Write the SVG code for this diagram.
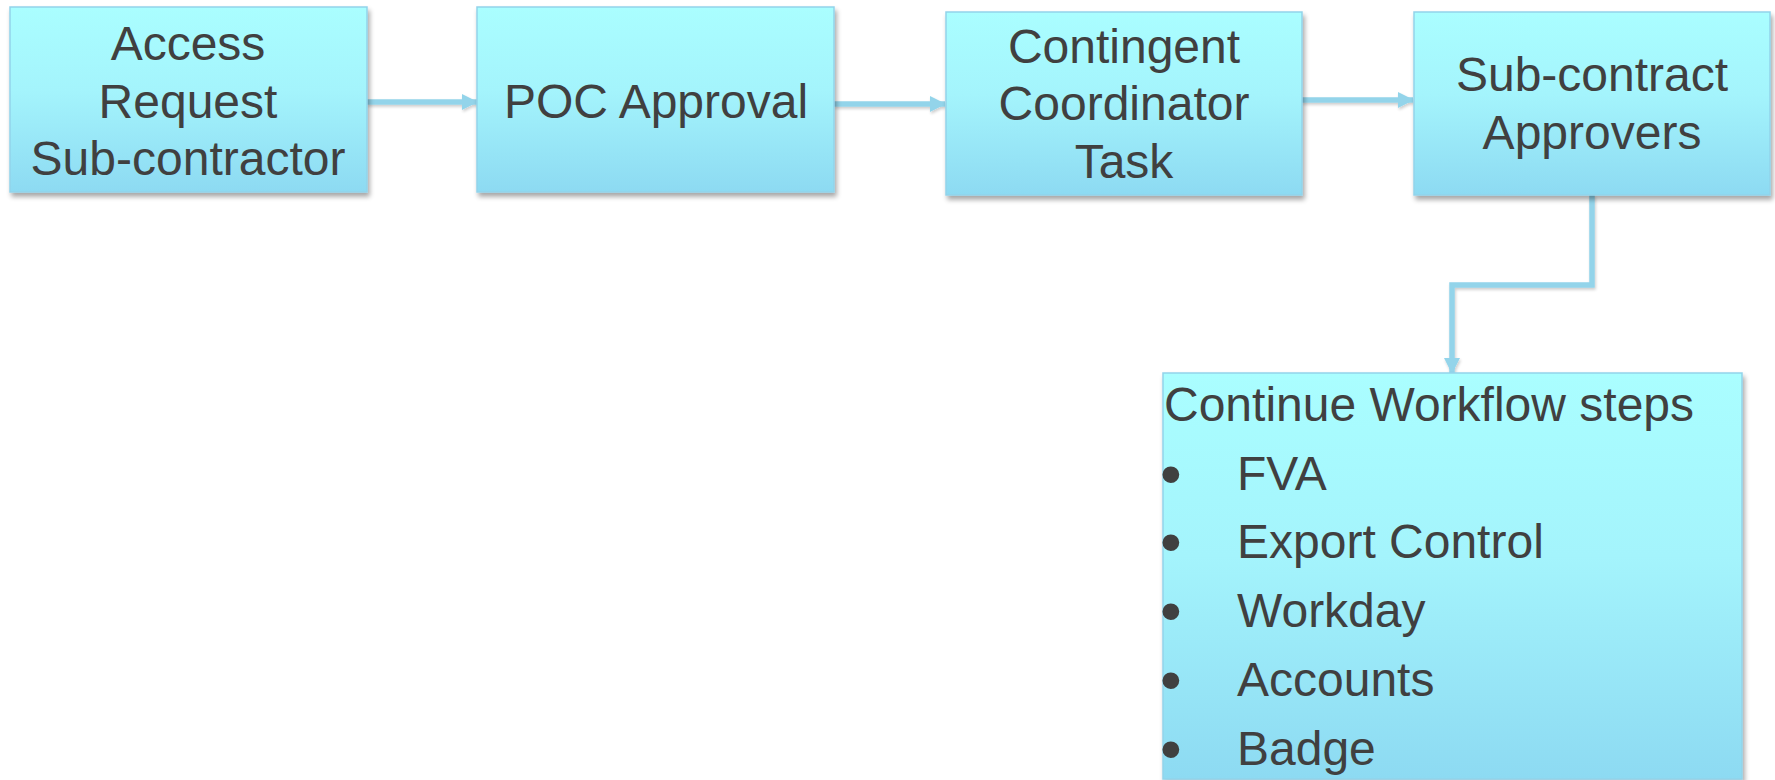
<svg xmlns="http://www.w3.org/2000/svg" width="1775" height="780" viewBox="0 0 1775 780">
  <defs>
    <linearGradient id="fill" x1="0" y1="0" x2="0" y2="1">
      <stop offset="0" stop-color="#AAFEFF"/>
      <stop offset="0.45" stop-color="#A4F4FC"/>
      <stop offset="1" stop-color="#8DDAF2"/>
    </linearGradient>
    <filter id="shadow" x="-10%" y="-10%" width="125%" height="130%">
      <feGaussianBlur in="SourceAlpha" stdDeviation="2.5"/>
      <feOffset dx="2" dy="4" result="b"/>
      <feComponentTransfer><feFuncA type="linear" slope="0.35"/></feComponentTransfer>
      <feMerge><feMergeNode/><feMergeNode in="SourceGraphic"/></feMerge>
    </filter>
    <filter id="lshadow" filterUnits="userSpaceOnUse" x="0" y="0" width="1775" height="780">
      <feGaussianBlur in="SourceAlpha" stdDeviation="1.5"/>
      <feOffset dx="1" dy="2" result="b"/>
      <feComponentTransfer><feFuncA type="linear" slope="0.2"/></feComponentTransfer>
      <feMerge><feMergeNode/><feMergeNode in="SourceGraphic"/></feMerge>
    </filter>
    <marker id="arrow" markerUnits="userSpaceOnUse" markerWidth="16" markerHeight="16" viewBox="0 0 16 16" refX="15" refY="8" orient="auto">
      <path d="M0,0 L16,8 L0,16 z" fill="#93D4EA"/>
    </marker>
  </defs>
  <style>
    .box { fill: url(#fill); stroke: #92D3EA; stroke-width: 1.5; filter: url(#shadow); }
    .lbl { font-family: "Liberation Sans", Arial, sans-serif; font-size: 48px; fill: #404040; text-anchor: middle; }
    .lst { font-family: "Liberation Sans", Arial, sans-serif; font-size: 48px; fill: #404040; }
    .blt { font-family: "Liberation Sans", Arial, sans-serif; font-size: 62px; fill: #404040; }
    .conn { fill: none; stroke: #93D4EA; stroke-width: 5.5; marker-end: url(#arrow); filter: url(#lshadow); }
  </style>
  <rect width="1775" height="780" fill="#FFFFFF"/>

  <g id="connectors">
    <path class="conn" d="M367,102 L477,102"/>
    <path class="conn" d="M834,104 L945,104"/>
    <path class="conn" d="M1302,100 L1413,100"/>
    <path class="conn" d="M1592,195 L1592,285 L1452,285 L1452,373"/>
  </g>

  <g id="node-access-request">
    <rect class="box" x="10" y="7" width="357" height="185"/>
    <text class="lbl" x="188" y="60">Access</text>
    <text class="lbl" x="188" y="118">Request</text>
    <text class="lbl" x="188" y="175">Sub-contractor</text>
  </g>

  <g id="node-poc-approval">
    <rect class="box" x="477" y="7" width="357" height="185"/>
    <text class="lbl" x="656" y="118">POC Approval</text>
  </g>

  <g id="node-contingent-coordinator">
    <rect class="box" x="946" y="12" width="356" height="183"/>
    <text class="lbl" x="1124" y="63">Contingent</text>
    <text class="lbl" x="1124" y="120">Coordinator</text>
    <text class="lbl" x="1124" y="178">Task</text>
  </g>

  <g id="node-subcontract-approvers">
    <rect class="box" x="1414" y="12" width="356" height="183"/>
    <text class="lbl" x="1592" y="91">Sub-contract</text>
    <text class="lbl" x="1592" y="149">Approvers</text>
  </g>

  <g id="node-continue-workflow">
    <rect class="box" x="1163" y="373" width="579" height="406"/>
    <text class="lst" x="1164" y="421">Continue Workflow steps</text>
    <text class="blt" x="1160" y="495">•</text>
    <text class="lst" x="1237" y="490">FVA</text>
    <text class="blt" x="1160" y="563">•</text>
    <text class="lst" x="1237" y="558">Export Control</text>
    <text class="blt" x="1160" y="632">•</text>
    <text class="lst" x="1237" y="627">Workday</text>
    <text class="blt" x="1160" y="701">•</text>
    <text class="lst" x="1237" y="696">Accounts</text>
    <text class="blt" x="1160" y="770">•</text>
    <text class="lst" x="1237" y="765">Badge</text>
  </g>
</svg>
